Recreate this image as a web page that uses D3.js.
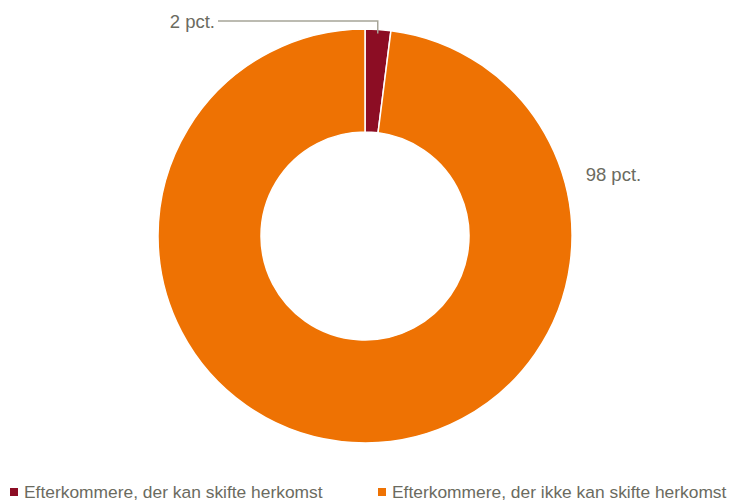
<!DOCTYPE html>
<html>
<head>
<meta charset="utf-8">
<script src="https://cdn.jsdelivr.net/npm/d3@7"></script>
<style>
  body { margin: 0; background: #fff; }
  text { font-family: "Liberation Sans Narrow", "Arial Narrow", "Liberation Sans", sans-serif; fill: #6b6b5f; }
</style>
</head>
<body>
<div class="canvas"></div>
<script>
// data
const categories = ['Efterkommere, der kan skifte herkomst', 'Efterkommere, der ikke kan skifte herkomst']
const values = [2, 98]
const labels = ['2 pct.', '98 pct.']
const colors = ['#8c0d24', '#ee7203']

const width = 732
const height = 502
const cx = 365
const cy = 236
const outerR = 207
const innerR = 104

const svg = d3.select('.canvas')
    .append('svg')
    .attr('width', width)
    .attr('height', height)

const graph = svg.append('g')
    .attr('transform', `translate(${cx}, ${cy})`)

const pie = d3.pie().sort(null).value(d => d)
const arc = d3.arc().innerRadius(innerR).outerRadius(outerR)
const arcs = pie(values)

graph.selectAll('path')
    .data(arcs)
    .enter()
    .append('path')
    .attr('d', arc)
    .attr('fill', (d, i) => colors[i])
    .attr('stroke', '#fff')
    .attr('stroke-width', 1.5)

// label for the small slice, with leader line
const small = arcs[0]
const midA = (small.startAngle + small.endAngle) / 2
const px = Math.sin(midA) * (outerR - 4)
const py = -Math.cos(midA) * (outerR - 4)
graph.append('polyline')
    .attr('points', [[px, py], [px, -215], [-147, -215]].map(p => p.join(',')).join(' '))
    .attr('fill', 'none')
    .attr('stroke', '#a6a598')
    .attr('stroke-width', 1.5)
graph.append('text')
    .attr('x', -150)
    .attr('y', -214)
    .attr('dy', '0.35em')
    .attr('text-anchor', 'end')
    .style('font-size', '18.5px')
    .text(labels[0])

// label for the big slice (outside end)
const bigA = 1.30
const labelR = 229
graph.append('text')
    .attr('x', Math.sin(bigA) * labelR)
    .attr('y', -Math.cos(bigA) * labelR)
    .attr('dy', '0.35em')
    .style('font-size', '18.5px')
    .text(labels[1])

// legend
const legendX = [10, 378]
const legend = svg.selectAll('.legend')
    .data(categories)
    .enter()
    .append('g')
    .attr('transform', (d, i) => `translate(${legendX[i]}, 488)`)
legend.append('rect')
    .attr('width', 8)
    .attr('height', 8)
    .attr('fill', (d, i) => colors[i])
legend.append('text')
    .attr('x', 14)
    .attr('y', 10)
    .style('font-size', '17.4px')
    .text(d => d)
</script>
</body>
</html>
